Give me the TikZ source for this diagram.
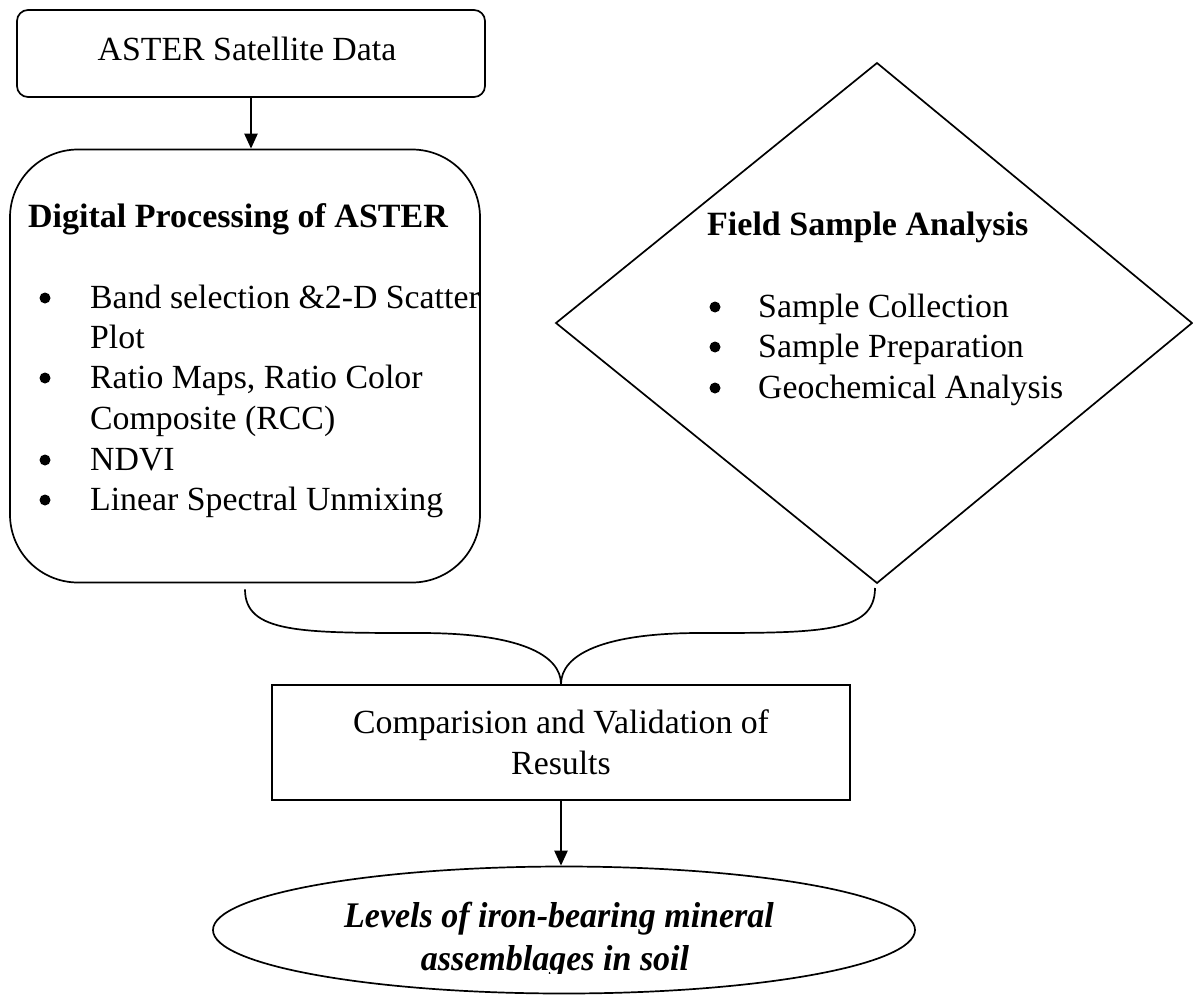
\documentclass[tikz,border=0pt]{standalone}
\usepackage{fontspec}
\setmainfont{Liberation Serif}
\usetikzlibrary{shapes.geometric,arrows.meta}
\tikzset{
  box/.style={draw,line width=1.7pt,inner sep=0pt},
  txt/.style={inner sep=0pt,font=\fontsize{33.8}{40.5}\selectfont},
  btxt/.style={inner sep=0pt,font=\fontsize{34}{40.5}\selectfont\bfseries},
  itxt/.style={inner sep=0pt,font=\fontsize{34}{40.5}\selectfont\bfseries\itshape},
  bul/.style={circle,fill,inner sep=0pt,minimum size=11pt},
  arr/.style={line width=2.4pt,-{Triangle[width=13pt,length=15pt]}},
  brace/.style={line width=1.7pt}
}
\begin{document}
\begin{tikzpicture}[x=1pt,y=-1pt]
\useasboundingbox (0,0) rectangle (1193,998);
% top box
\node[box,rounded corners=11pt,minimum width=468pt,minimum height=87pt] (aster) at (251,53.5) {};
\node[txt,anchor=base] (astert) at (247,60) {ASTER Satellite Data};
% digital processing box
\node[box,rounded corners=68pt,minimum width=470pt,minimum height=433pt] (dig) at (245,366) {};
\node[btxt,anchor=base west] (digt) at (28,227) {Digital Processing of ASTER};
\node[bul] (b1) at (45,298) {};
\node[txt,anchor=base west] (i1) at (90,308) {Band selection \&2-D Scatter};
\node[txt,anchor=base west] (i1b) at (90,348) {Plot};
\node[bul] (b2) at (45,378) {};
\node[txt,anchor=base west] (i2) at (90,388) {Ratio Maps, Ratio Color};
\node[txt,anchor=base west] (i2b) at (90,429) {Composite (RCC)};
\node[bul] (b3) at (45,460) {};
\node[txt,anchor=base west] (i3) at (90,470) {NDVI};
\node[bul] (b4) at (45,500) {};
\node[txt,anchor=base west] (i4) at (90,510) {Linear Spectral Unmixing};
% diamond
\coordinate (dT) at (877,63);
\coordinate (dR) at (1192,323);
\coordinate (dB) at (877,583);
\coordinate (dL) at (556,323);
\draw[line width=1.7pt,line join=miter] (dT) -- (dR) -- (dB) -- (dL) -- cycle;
\node[btxt,anchor=base west] (fieldt) at (707,235) {Field Sample Analysis};
\node[bul] (f1b) at (715,307) {};
\node[txt,anchor=base west] (f1) at (758,317) {Sample Collection};
\node[bul] (f2b) at (715,347) {};
\node[txt,anchor=base west] (f2) at (758,357) {Sample Preparation};
\node[bul] (f3b) at (715,388) {};
\node[txt,anchor=base west] (f3) at (758,398) {Geochemical Analysis};
% comparison box
\node[box,minimum width=578pt,minimum height=115pt,txt,align=center] (cmp) at (561,742.5) {Comparision and Validation of\\Results};
% ellipse
\node[box,ellipse,minimum width=702pt,minimum height=127pt] (ell) at (564,930) {};
\begin{scope}
\clip (200,860) rectangle (930,973);
\node[itxt,anchor=base] (e1) at (559,927) {\scalebox{1}[1.06]{Levels of iron-bearing mineral}};
\node[itxt,anchor=base] (e2) at (555,970) {\scalebox{1}[1.06]{assemblages in soil}};
\end{scope}
% arrows
\draw[arr] (aster.south) -- (aster.south |- dig.north);
\draw[arr] (cmp.south) -- (cmp.south |- ell.north);
% brace
\coordinate (bl) at ([yshift=-6pt]dig.south);
\coordinate (br) at ([xshift=-2pt,yshift=-5pt]dB);
\coordinate (tip) at (cmp.north);
\draw[brace] (bl) .. controls (245,633) and (300,633) .. (420,633)
  .. controls (520,633) and (561,655) .. (tip);
\draw[brace] (br) .. controls (875,633) and (820,633) .. (700,633)
  .. controls (602,633) and (561,655) .. (tip);
\end{tikzpicture}
\end{document}
